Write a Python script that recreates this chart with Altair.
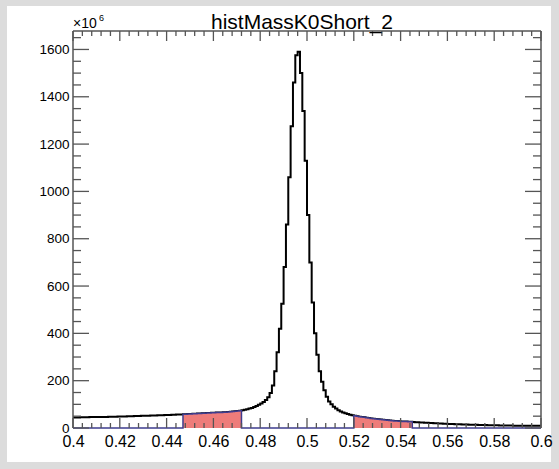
import altair as alt
import numpy as np
import pandas as pd

# ---------------- data ----------------
title_text = "histMassK0Short_2"
x_lo, x_hi, bin_w = 0.4, 0.6, 0.001
y_max = 1678

# bin contents (x10^6), bins of 0.001 from 0.400 to 0.600
counts = [
    44, 44, 44, 45, 45, 45, 45, 46, 46, 46,
    46, 47, 47, 47, 47, 48, 48, 48, 48, 49,
    49, 49, 49, 50, 50, 50, 51, 51, 51, 52,
    52, 52, 52, 53, 53, 53, 54, 54, 54, 55,
    55, 55, 56, 56, 57, 57, 57, 58, 58, 59,
    59, 60, 60, 61, 61, 62, 62, 63, 63, 64,
    64, 65, 65, 66, 67, 67, 68, 69, 70, 71,
    72, 73, 75, 77, 79, 82, 85, 89, 93, 98,
    104, 110, 118, 130, 148, 180, 240, 320, 420, 525,
    680, 860, 1060, 1275, 1460, 1575, 1590, 1500, 1340, 1130,
    900, 700, 530, 400, 310, 240, 195, 160, 132, 112,
    100, 90, 82, 75, 70, 65, 62, 59, 56, 54,
    52, 50, 48, 46, 45, 43, 42, 40, 39, 38,
    37, 36, 35, 34, 33, 32, 31, 30, 30, 29,
    28, 28, 27, 26, 26, 25, 24, 24, 23, 23,
    22, 22, 21, 21, 20, 20, 19, 19, 18, 18,
    17, 17, 17, 16, 16, 16, 15, 15, 15, 14,
    14, 14, 14, 13, 13, 13, 13, 12, 12, 12,
    12, 12, 11, 11, 11, 11, 11, 11, 10, 10,
    10, 10, 10, 10, 10, 10, 10, 10, 10, 10,
]

# sideband bin index ranges (first, last inclusive)
sideband_first = [47, 120]
sideband_last = [71, 144]

x_major = [0.40, 0.42, 0.44, 0.46, 0.48, 0.50, 0.52, 0.54, 0.56, 0.58, 0.60]
x_minor = [round(0.4 + 0.004 * i, 3) for i in range(51) if i % 5 != 0]
y_major = [0, 200, 400, 600, 800, 1000, 1200, 1400, 1600]
y_minor = [v for v in range(50, 1651, 50) if v % 200 != 0]

# ---------------- tables ----------------
n = len(counts)
edges = [round(x_lo + bin_w * i, 3) for i in range(n + 1)]

hist_df = pd.DataFrame({"x": edges, "y": counts + [counts[-1]]})

sb_vals = [0] * n
area_rows = []
for b, (f, l) in enumerate(zip(sideband_first, sideband_last)):
    for i in range(f, l + 1):
        sb_vals[i] = counts[i]
        area_rows.append({"x": edges[i], "y": counts[i], "band": b})
    area_rows.append({"x": edges[l + 1], "y": counts[l], "band": b})
sb_line_df = pd.DataFrame({"x": edges, "y": sb_vals + [0]})
area_df = pd.DataFrame(area_rows)

W, H = 468, 397
FONT = "Liberation Sans"
TICK = "#555555"

xs = alt.Scale(domain=[x_lo, x_hi], nice=False, zero=False)
ys = alt.Scale(domain=[0, y_max], nice=False, zero=False)

xa = alt.Axis(values=x_major, format=".2~f", title=None, ticks=False,
              domain=False, grid=False, labelFontSize=16, labelFont=FONT,
              labelColor="black", labelPadding=5, labelFlush=False,
              labelOverlap=False, zindex=1)
ya = alt.Axis(values=y_major, format="d", title=None, ticks=False,
              domain=False, grid=False, labelFontSize=13.5, labelFont=FONT,
              labelColor="black", labelPadding=4, labelFlush=False,
              labelOverlap=False, zindex=1)

X = alt.X("x:Q", scale=xs, axis=xa)
Y = alt.Y("y:Q", scale=ys, axis=ya, stack=None)

one = pd.DataFrame({"k": [0]})

# white canvas panel over the grey page background
panel = alt.Chart(one).mark_rect(color="white").encode(
    x=alt.value(-66), x2=alt.value(W + 10),
    y=alt.value(-25), y2=alt.value(H + 34),
)

hist = alt.Chart(hist_df).mark_line(
    interpolate="step-after", color="black", strokeWidth=2
).encode(x=X, y=Y)

area = alt.Chart(area_df).mark_area(
    interpolate="step-after", color="#EE7C7A", opacity=1
).encode(x=X, y=Y, detail="band:N")

sb_line = alt.Chart(sb_line_df).mark_line(
    interpolate="step-after", color="#3E3C8E", strokeWidth=1.5
).encode(x=X, y=Y)


def xticks(vals, y0, y1):
    return alt.Chart(pd.DataFrame({"x": vals})).mark_rule(
        color=TICK, strokeWidth=1.3
    ).encode(x=X, y=alt.value(y0), y2=alt.value(y1))


def yticks(vals, x0, x1):
    return alt.Chart(pd.DataFrame({"y": vals})).mark_rule(
        color=TICK, strokeWidth=1.3
    ).encode(y=Y, x=alt.value(x0), x2=alt.value(x1))


ticks = [
    xticks(x_major, H, H - 10), xticks(x_minor, H, H - 5),
    xticks(x_major, 0, 10), xticks(x_minor, 0, 5),
    yticks(y_major, 0, 16), yticks(y_minor, 0, 8),
    yticks(y_major, W, W - 16), yticks(y_minor, W, W - 8),
]


def frame_rule(x0, x1, y0, y1):
    return alt.Chart(one).mark_rule(color=TICK, strokeWidth=1.5).encode(
        x=alt.value(x0), x2=alt.value(x1), y=alt.value(y0), y2=alt.value(y1))


frame = [
    frame_rule(0, W, 0, 0), frame_rule(0, 0, 0, H),
    frame_rule(W, W, 0, H),
]


def label(text, x, y, size, align="left"):
    return alt.Chart(pd.DataFrame({"t": [text]})).mark_text(
        align=align, baseline="alphabetic", fontSize=size, font=FONT,
        color="black"
    ).encode(text="t:N", x=alt.value(x), y=alt.value(y))


title_mark = label(title_text, W / 2 - 5, -2, 21, align="center")
exp_base = label("×10", 0, -3, 14)
exp_pow = label("6", 26, -10, 9)

chart = alt.layer(
    panel, hist, area, sb_line, *ticks, *frame,
    title_mark, exp_base, exp_pow
).properties(
    width=W, height=H,
    autosize=alt.AutoSizeParams(type="none"),
    padding={"left": 73, "top": 31, "right": 18, "bottom": 41},
    background="#dcdcdc",
).configure_view(
    stroke=None, fill="white"
)

chart.save("out.html", embed_options={"renderer": "svg", "actions": False})
